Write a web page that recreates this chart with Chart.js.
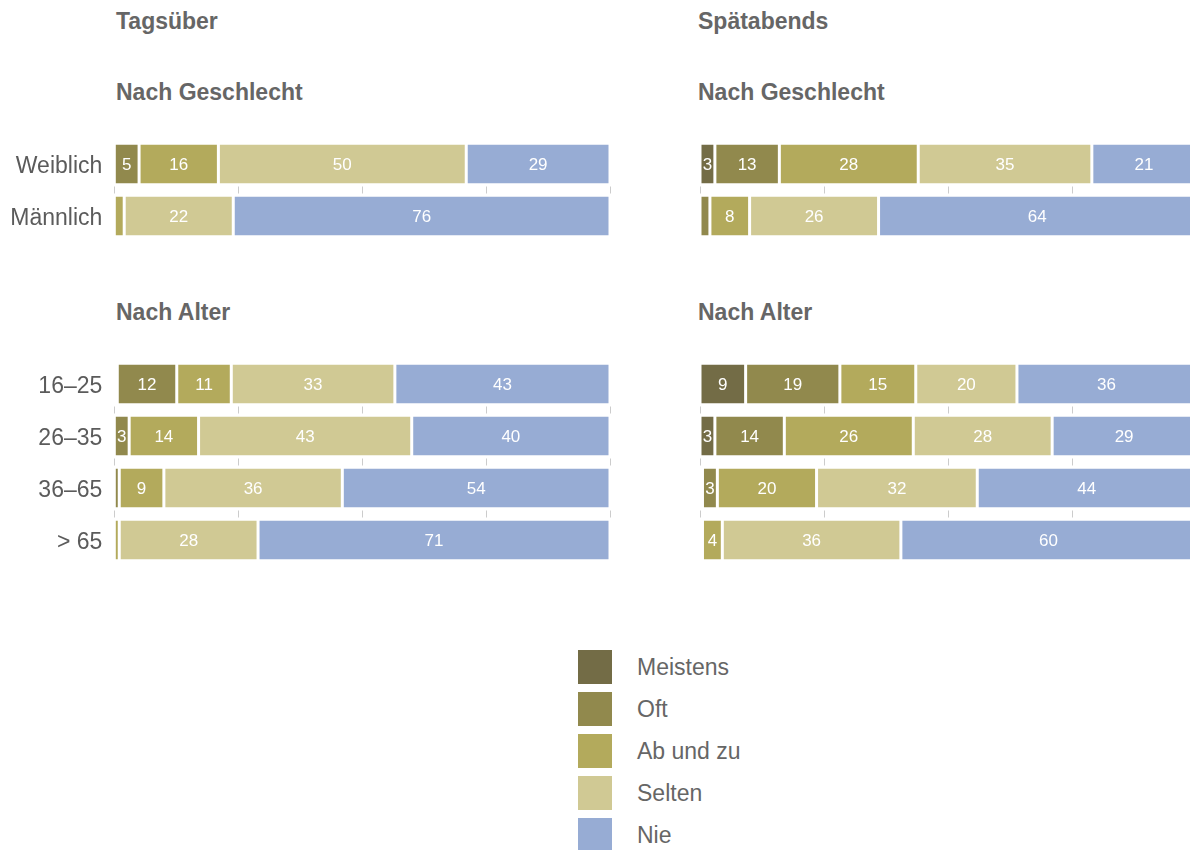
<!DOCTYPE html>
<html><head><meta charset="utf-8">
<script src="https://cdn.jsdelivr.net/npm/chart.js@4/dist/chart.umd.min.js"></script>
<style>
html,body{margin:0;padding:0;background:#fff;overflow:hidden;width:1190px;height:850px;}
body{position:relative;font-family:"Liberation Sans",Arial,Helvetica,sans-serif;}
.t{position:absolute;font-weight:bold;font-size:23px;line-height:23px;color:#666;white-space:nowrap;}
canvas{position:absolute;}
.legend{position:absolute;left:578px;top:650px;}
.li{position:relative;height:42px;width:300px;}
.sw{position:absolute;left:0;top:0;width:34px;height:34px;}
.lt{position:absolute;left:59px;top:0;line-height:34px;font-size:23px;color:#666;white-space:nowrap;}
</style></head>
<body>
<div class="t" style="left:116px;top:9.5px">Tagsüber</div>
<div class="t" style="left:698px;top:9.5px">Spätabends</div>
<div class="t" style="left:116px;top:81px">Nach Geschlecht</div>
<div class="t" style="left:698px;top:81px">Nach Geschlecht</div>
<div class="t" style="left:116px;top:301px">Nach Alter</div>
<div class="t" style="left:698px;top:301px">Nach Alter</div>
<canvas id="dayGender" width="625" height="124" style="left:0;top:128px"></canvas>
<canvas id="dayAge" width="625" height="228" style="left:0;top:348px"></canvas>
<canvas id="lateGender" width="516" height="124" style="left:690px;top:128px"></canvas>
<canvas id="lateAge" width="516" height="228" style="left:690px;top:348px"></canvas>
<div class="legend" id="legend"></div>
<script>
// ---- categories & labels ----
const seriesNames = ['Meistens', 'Oft', 'Ab und zu', 'Selten', 'Nie'];
const genderLabels = ['Weiblich', 'Männlich'];
const ageLabels = ['16–25', '26–35', '36–65', '> 65'];
const xTickValues = [0, 25, 50, 75, 100];

// ---- Tagsüber, nach Geschlecht ----
const dayGenderMeistens = [0, 0];
const dayGenderOft      = [5, 0];
const dayGenderAbUndZu  = [16, 2];
const dayGenderSelten   = [50, 22];
const dayGenderNie      = [29, 76];

// ---- Tagsüber, nach Alter ----
const dayAgeMeistens = [0.6, 0, 0, 0];
const dayAgeOft      = [12, 3, 1, 0];
const dayAgeAbUndZu  = [11, 14, 9, 1];
const dayAgeSelten   = [33, 43, 36, 28];
const dayAgeNie      = [43.4, 40, 54, 71];

// ---- Spätabends, nach Geschlecht ----
const lateGenderMeistens = [3, 0];
const lateGenderOft      = [13, 2];
const lateGenderAbUndZu  = [28, 8];
const lateGenderSelten   = [35, 26];
const lateGenderNie      = [21, 64];

// ---- Spätabends, nach Alter ----
const lateAgeMeistens = [9.2, 3, 0.5, 0];
const lateAgeOft      = [19, 14, 3, 0.5];
const lateAgeAbUndZu  = [15.3, 26, 20, 4];
const lateAgeSelten   = [20.4, 28, 32.4, 36];
const lateAgeNie      = [36.1, 29, 44.1, 59.5];

const palette = ['#736c46', '#91894d', '#b3aa5c', '#d0c994', '#97acd4'];
const FONT = '"Liberation Sans", Arial, Helvetica, sans-serif';
Chart.defaults.font.family = FONT;

const tickMarks = {
  id: 'tickMarks',
  beforeDatasetsDraw(chart) {
    const xs = chart.scales.x, ys = chart.scales.y, ctx = chart.ctx;
    const n = chart.data.labels.length;
    ctx.save();
    ctx.strokeStyle = '#cccccc';
    ctx.lineWidth = 1;
    for (let i = 0; i < n - 1; i++) {
      const y = (ys.getPixelForValue(i) + ys.getPixelForValue(i + 1)) / 2;
      xTickValues.forEach(v => {
        const x = Math.round(xs.getPixelForValue(v)) + 0.5;
        ctx.beginPath();
        ctx.moveTo(x, y - 3.5);
        ctx.lineTo(x, y + 3.5);
        ctx.stroke();
      });
    }
    ctx.restore();
  }
};

const valueLabels = {
  id: 'valueLabels',
  afterDatasetsDraw(chart) {
    const ctx = chart.ctx;
    ctx.save();
    ctx.fillStyle = '#ffffff';
    ctx.font = '17px ' + FONT;
    ctx.textAlign = 'center';
    ctx.textBaseline = 'middle';
    chart.data.datasets.forEach((ds, di) => {
      const meta = chart.getDatasetMeta(di);
      meta.data.forEach((el, i) => {
        const v = ds.data[i];
        if (v >= 2.5) {
          const c = el.getCenterPoint();
          ctx.fillText(String(Math.round(v)), c.x, c.y + 1);
        }
      });
    });
    ctx.restore();
  }
};

function makeChart(id, labels, series, showY, padL, padR) {
  new Chart(document.getElementById(id), {
    type: 'bar',
    data: {
      labels: labels,
      datasets: seriesNames.map((name, i) => ({
        label: name,
        data: series[i],
        backgroundColor: palette[i],
        borderColor: '#ffffff',
        borderWidth: {left: 1.5, right: 1.5, top: 0, bottom: 0},
        borderSkipped: false,
        barPercentage: 1,
        categoryPercentage: 0.75
      }))
    },
    options: {
      indexAxis: 'y',
      responsive: false,
      animation: false,
      devicePixelRatio: 1,
      layout: {padding: {top: 10, bottom: 10, left: padL, right: padR}},
      plugins: {legend: {display: false}, tooltip: {enabled: false}},
      scales: {
        x: {stacked: true, min: 0, max: 100, display: false},
        y: {
          stacked: true,
          display: showY,
          grid: {display: false, drawTicks: false},
          border: {display: false},
          ticks: {padding: 12, labelOffset: 3, color: '#5b5b5b', font: {size: 23, family: FONT}},
          afterFit: s => {
            if (showY) { s.width = 114.3; }
            s.paddingTop = 0;
            s.paddingBottom = 0;
          }
        }
      }
    },
    plugins: [tickMarks, valueLabels]
  });
}

makeChart('dayGender', genderLabels,
  [dayGenderMeistens, dayGenderOft, dayGenderAbUndZu, dayGenderSelten, dayGenderNie], true, 0, 15);
makeChart('dayAge', ageLabels,
  [dayAgeMeistens, dayAgeOft, dayAgeAbUndZu, dayAgeSelten, dayAgeNie], true, 0, 15);
makeChart('lateGender', genderLabels,
  [lateGenderMeistens, lateGenderOft, lateGenderAbUndZu, lateGenderSelten, lateGenderNie], false, 10, 10);
makeChart('lateAge', ageLabels,
  [lateAgeMeistens, lateAgeOft, lateAgeAbUndZu, lateAgeSelten, lateAgeNie], false, 10, 10);

const legend = document.getElementById('legend');
seriesNames.forEach((name, i) => {
  const row = document.createElement('div');
  row.className = 'li';
  row.innerHTML = '<div class="sw" style="background:' + palette[i] + '"></div><div class="lt">' + name + '</div>';
  legend.appendChild(row);
});
</script>
</body></html>
